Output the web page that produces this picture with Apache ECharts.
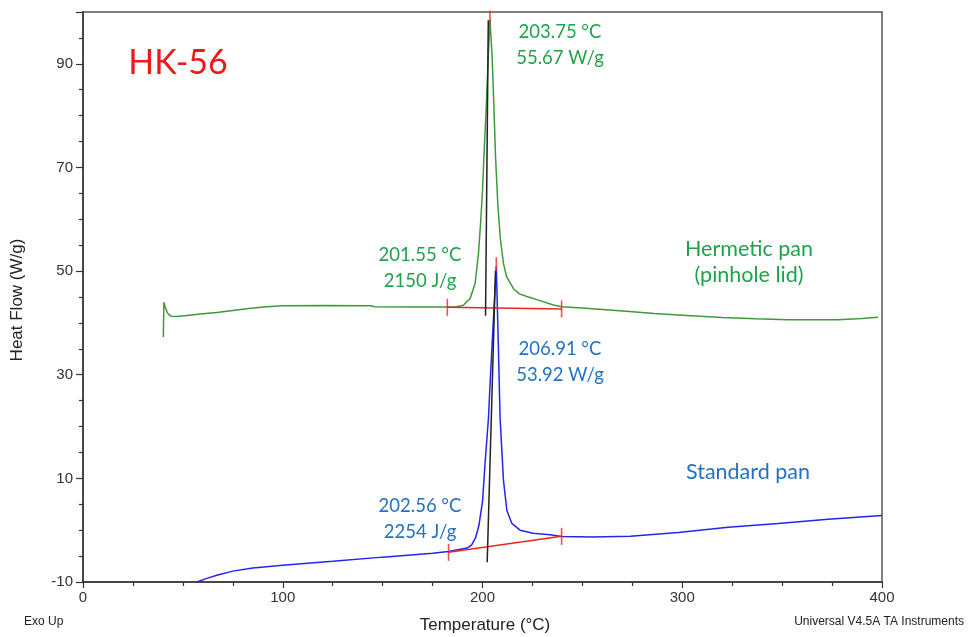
<!DOCTYPE html>
<html>
<head>
<meta charset="utf-8">
<script src="https://cdn.jsdelivr.net/npm/echarts@6/dist/echarts.min.js"></script>
<style>
  html, body { margin: 0; padding: 0; background: #fff; }
  #chart { width: 970px; height: 637px; }
</style>
</head>
<body>
<div id="chart"></div>
<script>
// DSC traces: [temperature (°C), heat flow (W/g)]
const hermeticTrace = [
  [40.2, 37.3], [40.5, 44.0], [41.2, 43.0], [42.3, 41.9], [44, 41.3], [47, 41.25],
  [52, 41.45], [60, 41.75], [67, 42.0], [75, 42.4], [84, 42.85], [92, 43.1],
  [100, 43.3], [120, 43.35], [144, 43.3], [146, 43.1], [165, 43.05], [182, 43.05],
  [187, 43.1], [190.4, 43.4], [193.8, 44.7], [196.3, 47.6], [198, 53.5], [199, 59.0],
  [200, 65.5], [200.7, 72.0], [201.9, 81.9], [202.9, 91.5],
  [204.8, 91.5], [205.7, 81.9], [206.5, 72.3], [207.7, 62.6], [209, 56.0],
  [210.5, 51.5], [212, 49.0], [215.5, 46.6], [218.5, 45.6], [222.2, 45.1],
  [228.8, 44.3], [235.5, 43.45], [239.5, 43.1], [250, 42.9], [260, 42.6],
  [272, 42.25], [286, 41.8], [300, 41.5], [320, 41.05], [337, 40.8], [353, 40.6],
  [378, 40.6], [390, 40.85], [398, 41.1]
];
const standardTrace = [
  [57, -10.0], [62, -9.3], [67, -8.7], [75, -7.9], [85, -7.3], [100, -6.75],
  [125, -6.0], [150, -5.2], [175, -4.45], [183, -4.1], [192.3, -3.45], [194.5, -2.9],
  [196.5, -1.5], [198.2, 0.9], [200, 5.5], [201.3, 13.0], [203, 21.7], [203.8, 28.3],
  [205.5, 41.0],
  [208.0, 34.6], [208.8, 21.7], [210.5, 9.6], [212.2, 3.8], [214.7, 1.3],
  [218.8, 0.0], [225.3, -0.6], [233.8, -0.86], [239.5, -1.2], [255, -1.3],
  [274, -1.15], [298, -0.45], [323, 0.55], [348, 1.3], [373, 2.1], [400, 2.85]
];

// Peak analysis results (hermetic, standard)
const sampleName = 'HK-56';
const panNames = ['Hermetic pan\n(pinhole lid)', 'Standard pan'];
const onsetTemps = [201.55, 202.56];
const enthalpies = [2150, 2254];
const peakTemps = [203.75, 206.91];
const peakHeights = [55.67, 53.92];
const baselineStarts = [[182.4, 43.0], [183.0, -4.28]];
const baselineEnds = [[239.6, 42.7], [239.6, -1.19]];
const tangentLows = [[201.52, 41.4], [202.35, -6.2]];
const tangentHighs = [[202.9, 98.4], [206.5, 50.0]];

// Axis ticks
const xTicks = [0, 100, 200, 300, 400];
const yTicks = [-10, 10, 30, 50, 70, 90];
const yTop = 100;

const GREEN_LINE = '#3c9a3c';
const BLUE_LINE = '#2424f0';
const GREEN_TEXT = '#1fa34a';
const BLUE_TEXT = '#2272c3';
const RED = '#ee2424';
const INK = '#222';

// integration baseline value at temperature t
function baselineAt(i, t) {
  const [x0, y0] = baselineStarts[i];
  const [x1, y1] = baselineEnds[i];
  return y0 + (t - x0) / (x1 - x0) * (y1 - y0);
}
const peakPoints = peakTemps.map((t, i) => [t, baselineAt(i, t) + peakHeights[i]]);

function withPeak(trace, peak) {
  return trace.concat([peak]).sort((a, b) => a[0] - b[0]);
}

const traces = [withPeak(hermeticTrace, peakPoints[0]), withPeak(standardTrace, peakPoints[1])];
const lineColors = [GREEN_LINE, BLUE_LINE];
const textColors = [GREEN_TEXT, BLUE_TEXT];

const series = [];
traces.forEach((d, i) => {
  series.push({
    type: 'line', data: d, showSymbol: false, animation: false, z: 2,
    lineStyle: { color: lineColors[i], width: 1.5 }
  });
});
[0, 1].forEach(i => {
  series.push({
    type: 'line', data: [baselineStarts[i], baselineEnds[i]], showSymbol: false,
    animation: false, z: 3, lineStyle: { color: RED, width: 1.5 }
  });
  series.push({
    type: 'line', data: [tangentLows[i], tangentHighs[i]], showSymbol: false,
    animation: false, z: 4, lineStyle: { color: INK, width: 1.5 }
  });
});
series.push({
  type: 'scatter', animation: false, z: 5,
  data: baselineStarts.concat(baselineEnds),
  symbol: 'rect', symbolSize: [1.6, 17],
  itemStyle: { color: RED }
});
series.push({
  type: 'scatter', animation: false, z: 5,
  data: peakPoints,
  symbol: 'rect', symbolSize: [1.6, 14], symbolOffset: [0, -2],
  itemStyle: { color: RED }
});

const annoFont = 'Lato, "Open Sans", sans-serif';
function note(text, x, y, color, size) {
  return {
    type: 'text', x: x, y: y, z: 10,
    style: {
      text: text, fill: color, font: `${size}px ${annoFont}`,
      textAlign: 'center', textVerticalAlign: 'middle', lineHeight: 26
    }
  };
}

const chart = echarts.init(document.getElementById('chart'), null, { renderer: 'canvas' });
chart.setOption({
  animation: false,
  backgroundColor: '#fff',
  grid: {
    left: 83, right: 88, top: 12, bottom: 55,
    show: true, borderColor: '#555', borderWidth: 1.5,
    containLabel: false, outerBoundsMode: 'none'
  },
  xAxis: {
    type: 'value', min: xTicks[0], max: xTicks[xTicks.length - 1],
    interval: xTicks[1] - xTicks[0],
    axisLine: { show: true, onZero: false, lineStyle: { color: '#333', width: 1.5 } },
    axisTick: { show: true, length: 6, lineStyle: { color: '#333', width: 1.2 } },
    minorTick: { show: true, splitNumber: 4, length: 4, lineStyle: { color: '#333', width: 1.2 } },
    splitLine: { show: false },
    axisLabel: { margin: 8, color: '#333', fontSize: 15, fontFamily: '"Liberation Sans", Arial, sans-serif' }
  },
  yAxis: {
    type: 'value', min: yTicks[0], max: yTop,
    interval: yTicks[1] - yTicks[0],
    axisLine: { show: true, onZero: false, lineStyle: { color: '#333', width: 1.5 } },
    axisTick: { show: true, length: 7, lineStyle: { color: '#333', width: 1.2 } },
    minorTick: { show: true, splitNumber: 4, length: 4, lineStyle: { color: '#333', width: 1.2 } },
    splitLine: { show: false },
    axisLabel: {
      margin: 10, color: '#333', fontSize: 15, fontFamily: '"Liberation Sans", Arial, sans-serif',
      showMaxLabel: false
    }
  },
  series: series,
  graphic: [
    {
      type: 'text', x: 17, y: 300, rotation: Math.PI / 2, z: 10,
      style: { text: 'Heat Flow (W/g)', fill: INK, font: '17px "Liberation Sans", Arial, sans-serif',
        textAlign: 'center', textVerticalAlign: 'middle' }
    },
    {
      type: 'text', x: 485, y: 625, z: 10,
      style: { text: 'Temperature (°C)', fill: INK, font: '17px "Liberation Sans", Arial, sans-serif',
        textAlign: 'center', textVerticalAlign: 'middle' }
    },
    {
      type: 'text', x: 24, y: 622, z: 10,
      style: { text: 'Exo Up', fill: INK, font: '12px "Liberation Sans", Arial, sans-serif',
        textAlign: 'left', textVerticalAlign: 'middle' }
    },
    {
      type: 'text', x: 964, y: 622, z: 10,
      style: { text: 'Universal V4.5A TA Instruments', fill: INK, font: '12px "Liberation Sans", Arial, sans-serif',
        textAlign: 'right', textVerticalAlign: 'middle' }
    },
    {
      type: 'text', x: 178, y: 63, z: 10,
      style: { text: sampleName, fill: '#ee1a1a', font: `34px ${annoFont}`,
        textAlign: 'center', textVerticalAlign: 'middle' }
    },
    note(`${peakTemps[0].toFixed(2)} °C\n${peakHeights[0].toFixed(2)} W/g`, 560, 45, textColors[0], 18.5),
    note(`${onsetTemps[0].toFixed(2)} °C\n${enthalpies[0]} J/g`, 420, 268, textColors[0], 18.5),
    note(panNames[0], 749, 262, textColors[0], 21.5),
    note(`${peakTemps[1].toFixed(2)} °C\n${peakHeights[1].toFixed(2)} W/g`, 560, 362, textColors[1], 18.5),
    note(`${onsetTemps[1].toFixed(2)} °C\n${enthalpies[1]} J/g`, 420, 519, textColors[1], 18.5),
    note(panNames[1], 748, 472, textColors[1], 21.5)
  ]
});
</script>
</body>
</html>
